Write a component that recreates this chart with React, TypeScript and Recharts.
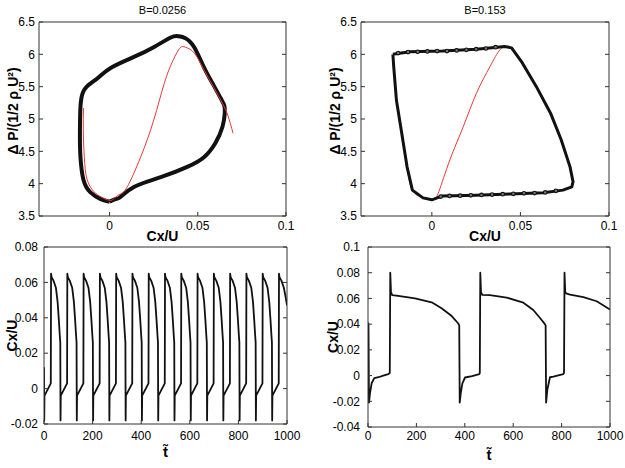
import { LineChart, Line, XAxis, YAxis } from "recharts";

const FONT = "'Liberation Sans', Arial, Helvetica, sans-serif";

// ---- top panels: phase portraits (Cx/U, dP/(1/2 rho U^2)) ----
const loopLowB = [
  [0.0, 3.72], [-0.005, 3.76], [-0.011, 3.87], [-0.0148, 4.06], [-0.0165, 4.41],
  [-0.0168, 4.77], [-0.0166, 5.14], [-0.016, 5.32], [-0.0136, 5.48], [-0.0068, 5.63],
  [0.0006, 5.79], [0.0138, 5.96], [0.025, 6.11], [0.0347, 6.26], [0.039, 6.28],
  [0.043, 6.25], [0.048, 6.11], [0.0535, 5.8], [0.059, 5.52], [0.063, 5.32],
  [0.065, 5.21], [0.0653, 5.09], [0.064, 4.88], [0.06, 4.63], [0.0535, 4.41],
  [0.044, 4.26], [0.029, 4.1], [0.0138, 3.95], [0.006, 3.79], [0.003, 3.76], [0.0, 3.72],
];

const predLowB = [
  [-0.0148, 5.17], [-0.0149, 4.8], [-0.0143, 4.4], [-0.0128, 4.07], [-0.009, 3.88],
  [-0.0045, 3.79], [0.0, 3.74], [0.0025, 3.77], [0.006, 3.84], [0.01, 3.95],
  [0.0176, 4.41], [0.025, 4.98], [0.031, 5.55], [0.036, 5.91], [0.04, 6.1],
  [0.043, 6.11], [0.048, 6.02], [0.0535, 5.76], [0.059, 5.49], [0.064, 5.24],
  [0.067, 5.06], [0.07, 4.78],
];

const loopHighB = [
  [-0.022, 6.0], [-0.0124, 6.04], [0.006, 6.05], [0.025, 6.08], [0.037, 6.11],
  [0.041, 6.12], [0.045, 6.1], [0.051, 5.87], [0.059, 5.5], [0.067, 5.09],
  [0.073, 4.68], [0.078, 4.26], [0.0797, 4.03], [0.079, 3.95], [0.074, 3.9],
  [0.063, 3.86], [0.044, 3.84], [0.025, 3.82], [0.006, 3.81], [0.003, 3.78],
  [0.0, 3.75], [-0.005, 3.78], [-0.011, 3.9], [-0.014, 4.26], [-0.017, 4.78],
  [-0.02, 5.29], [-0.0215, 5.8], [-0.022, 6.0],
];

// sparse markers visible along the fast (top / bottom) branches
const markersHighB = [
  [-0.019, 6.02], [-0.0135, 6.035], [-0.008, 6.04], [-0.0025, 6.045], [0.003, 6.05],
  [0.0085, 6.05], [0.014, 6.06], [0.0195, 6.07], [0.025, 6.08], [0.0305, 6.09],
  [0.036, 6.11],
  [0.07, 3.89], [0.064, 3.865], [0.058, 3.855], [0.052, 3.85], [0.046, 3.843],
  [0.04, 3.838], [0.034, 3.832], [0.028, 3.826], [0.022, 3.82], [0.016, 3.815],
  [0.01, 3.81], [0.005, 3.8],
];

const predHighB = [
  [-0.0215, 5.85], [-0.02, 5.29], [-0.017, 4.78], [-0.014, 4.26], [-0.011, 3.9],
  [-0.005, 3.78], [0.0, 3.75], [0.002, 3.78], [0.004, 3.88], [0.0102, 4.37],
  [0.0177, 4.88], [0.0252, 5.4], [0.0328, 5.81], [0.0384, 6.07], [0.042, 6.12],
  [0.045, 6.1], [0.051, 5.87], [0.059, 5.5], [0.067, 5.09], [0.073, 4.68],
  [0.078, 4.26], [0.0797, 4.03],
];

// ---- bottom panels: Cx/U against t~ ----
const cxLowB = [
  [0, 0.012],
  [1, -0.018], [2, -0.004], [28, 0.003], [29, 0.065], [31, 0.063], [39, 0.061], [49, 0.057], [56, 0.049], [61, 0.039], [65, 0.03], [67, 0.026],
  [68, -0.018], [69, -0.004], [95, 0.003], [96, 0.065], [98, 0.063], [106, 0.061], [116, 0.057], [123, 0.049], [128, 0.039], [132, 0.03], [134, 0.026],
  [135, -0.018], [136, -0.004], [162, 0.003], [163, 0.065], [165, 0.063], [173, 0.061], [183, 0.057], [190, 0.049], [195, 0.039], [199, 0.03], [201, 0.026],
  [202, -0.018], [203, -0.004], [229, 0.003], [230, 0.065], [232, 0.063], [240, 0.061], [250, 0.057], [257, 0.049], [262, 0.039], [266, 0.03], [268, 0.026],
  [269, -0.018], [270, -0.004], [296, 0.003], [297, 0.065], [299, 0.063], [307, 0.061], [317, 0.057], [324, 0.049], [329, 0.039], [333, 0.03], [335, 0.026],
  [336, -0.018], [337, -0.004], [363, 0.003], [364, 0.065], [366, 0.063], [374, 0.061], [384, 0.057], [391, 0.049], [396, 0.039], [400, 0.03], [402, 0.026],
  [403, -0.018], [404, -0.004], [430, 0.003], [431, 0.065], [433, 0.063], [441, 0.061], [451, 0.057], [458, 0.049], [463, 0.039], [467, 0.03], [469, 0.026],
  [470, -0.018], [471, -0.004], [497, 0.003], [498, 0.065], [500, 0.063], [508, 0.061], [518, 0.057], [525, 0.049], [530, 0.039], [534, 0.03], [536, 0.026],
  [537, -0.018], [538, -0.004], [564, 0.003], [565, 0.065], [567, 0.063], [575, 0.061], [585, 0.057], [592, 0.049], [597, 0.039], [601, 0.03], [603, 0.026],
  [604, -0.018], [605, -0.004], [631, 0.003], [632, 0.065], [634, 0.063], [642, 0.061], [652, 0.057], [659, 0.049], [664, 0.039], [668, 0.03], [670, 0.026],
  [671, -0.018], [672, -0.004], [698, 0.003], [699, 0.065], [701, 0.063], [709, 0.061], [719, 0.057], [726, 0.049], [731, 0.039], [735, 0.03], [737, 0.026],
  [738, -0.018], [739, -0.004], [765, 0.003], [766, 0.065], [768, 0.063], [776, 0.061], [786, 0.057], [793, 0.049], [798, 0.039], [802, 0.03], [804, 0.026],
  [805, -0.018], [806, -0.004], [832, 0.003], [833, 0.065], [835, 0.063], [843, 0.061], [853, 0.057], [860, 0.049], [865, 0.039], [869, 0.03], [871, 0.026],
  [872, -0.018], [873, -0.004], [899, 0.003], [900, 0.065], [902, 0.063], [910, 0.061], [920, 0.057], [927, 0.049], [932, 0.039], [936, 0.03], [938, 0.026],
  [939, -0.018], [940, -0.004], [966, 0.003], [967, 0.065], [969, 0.063], [977, 0.061], [987, 0.057], [994, 0.052], [1000, 0.047],
];

const cxHighB = [
  [0, 0.041], [2, 0.04], [4, -0.021], [8, -0.014], [15, -0.006], [26, -0.002],
  [43, -0.0013], [63, 0.0], [84, 0.0012], [90, 0.002], [92, 0.08], [95, 0.065],
  [100, 0.0626], [125, 0.062], [194, 0.06], [263, 0.057], [304, 0.0523], [346, 0.0463],
  [373, 0.0405], [377, 0.039], [379, -0.021], [383, -0.014], [390, -0.006], [401, -0.0015],
  [430, -0.0005], [460, 0.0012], [462, 0.002], [464, 0.08], [467, 0.065], [472, 0.0628],
  [504, 0.0626], [573, 0.0607], [642, 0.0567], [683, 0.051], [711, 0.0448], [731, 0.04],
  [734, 0.039], [736, -0.021], [741, -0.011], [752, -0.0013], [766, -0.0008], [807, 0.0012],
  [810, 0.002], [812, 0.08], [815, 0.065], [818, 0.064], [835, 0.063], [890, 0.061],
  [945, 0.0578], [1000, 0.0514],
];

// ---- ticks ----
const cxTicks = [0, 0.05, 0.1];
const dpTicks = [3.5, 4, 4.5, 5, 5.5, 6, 6.5];
const timeTicks = [0, 200, 400, 600, 800, 1000];
const cxLowTicks = [-0.02, 0, 0.02, 0.04, 0.06, 0.08];
const cxHighTicks = [-0.04, -0.02, 0, 0.02, 0.04, 0.06, 0.08, 0.1];

const toPts = (arr: number[][]) => arr.map(([x, y]) => ({ x, y }));

const YW = 50;
const XH = 40;
const RM = 20;
const AXIS = "#333";
const tickStyle = { fontSize: 12, fill: "#000", fontFamily: FONT };
const labelStyle = { fontSize: 14, fontWeight: 700, fill: "#000", fontFamily: FONT };

type Series = {
  data: number[][];
  color: string;
  width: number;
  curve: "linear" | "natural";
  markers?: boolean;
};

type PanelProps = {
  left: number; top: number; w: number; h: number;
  padTop: number;
  xDomain: [number, number]; xTicks: number[];
  yDomain: [number, number]; yTicks: number[];
  xGap: number; yGap: number;
  title?: string;
  timeAxis: boolean;
  yLabel: string;
  yLabelX: number;
  yLabelDy: number;
  series: Series[];
};

function Panel(p: PanelProps) {
  const chartLeft = p.left - YW;
  const chartTop = p.top - 1 - p.padTop;
  const width = YW + p.w + 1 + RM;
  const height = p.padTop + 1 + p.h + XH;

  const xLabel = p.timeAxis
    ? (props: any) => {
        const vb = props.viewBox;
        const cx = vb.x + vb.width / 2;
        return (
          <text x={cx} y={vb.y + 33} textAnchor="middle" style={{ ...labelStyle, fontSize: 15 }}>
            {"t\u0303"}
          </text>
        );
      }
    : (props: any) => {
        const vb = props.viewBox;
        return (
          <text x={vb.x + vb.width / 2} y={vb.y + 25} textAnchor="middle" style={labelStyle}>
            Cx/U
          </text>
        );
      };

  const yLabel = (props: any) => {
    const vb = props.viewBox;
    const cx = p.yLabelX - chartLeft;
    const cy = vb.y + vb.height / 2 + p.yLabelDy;
    return (
      <text
        x={cx}
        y={cy}
        transform={`rotate(-90 ${cx} ${cy})`}
        textAnchor="middle"
        dominantBaseline="central"
        style={labelStyle}
      >
        {p.yLabel}
      </text>
    );
  };

  return (
    <div style={{ position: "absolute", left: chartLeft, top: chartTop }}>
      <LineChart width={width} height={height} margin={{ top: p.padTop, right: RM, bottom: 0, left: 0 }}>
        <XAxis
          xAxisId="b"
          dataKey="x"
          type="number"
          domain={p.xDomain}
          ticks={p.xTicks}
          interval={0}
          allowDataOverflow
          height={XH}
          tickSize={-4}
          tickMargin={p.xGap}
          stroke={AXIS}
          tick={tickStyle}
          label={xLabel}
        />
        <XAxis
          xAxisId="t"
          orientation="top"
          type="number"
          domain={p.xDomain}
          ticks={p.xTicks}
          interval={0}
          allowDataOverflow
          height={1}
          tickSize={-4}
          tickFormatter={() => ""}
          stroke={AXIS}
          label={p.title ? { value: p.title, position: "top", offset: 7, style: { fontSize: 11, fill: "#000", fontFamily: FONT } } : undefined}
        />
        <YAxis
          yAxisId="l"
          type="number"
          domain={p.yDomain}
          ticks={p.yTicks}
          interval={0}
          allowDataOverflow
          width={YW}
          tickSize={-4}
          tickMargin={p.yGap}
          stroke={AXIS}
          tick={tickStyle}
          label={yLabel}
        />
        <YAxis
          yAxisId="r"
          orientation="right"
          type="number"
          domain={p.yDomain}
          ticks={p.yTicks}
          interval={0}
          allowDataOverflow
          width={1}
          tickSize={-4}
          tickFormatter={() => ""}
          stroke={AXIS}
        />
        {p.series.map((s, i) => (
          <Line
            key={i}
            xAxisId="b"
            yAxisId="l"
            data={toPts(s.data)}
            dataKey="y"
            type={s.curve}
            stroke={s.markers ? "none" : s.color}
            strokeWidth={s.width}
            strokeLinejoin="round"
            dot={s.markers ? { r: 1.8, stroke: s.color, strokeWidth: 1.1, fill: "#777" } : false}
            activeDot={false}
            isAnimationActive={false}
          />
        ))}
      </LineChart>
    </div>
  );
}

const RED = "#e5393a";
const BLACK = "#111";
const DP_LABEL = "\u0394 P/(1/2 \u03c1 U\u00b2)";

export default function App() {
  return (
    <div style={{ position: "absolute", left: 0, top: 0, width: 625, height: 468, background: "#fff", overflow: "hidden" }}>
      <Panel
        left={39} top={22} w={247} h={194} padTop={21}
        xDomain={[-0.04, 0.1]} xTicks={cxTicks}
        yDomain={[3.5, 6.5]} yTicks={dpTicks}
        xGap={9} yGap={8}
        title="B=0.0256"
        timeAxis={false}
        yLabel={DP_LABEL} yLabelX={13} yLabelDy={-8}
        series={[
          { data: loopLowB, color: BLACK, width: 4, curve: "natural" },
          { data: predLowB, color: RED, width: 1, curve: "natural" },
        ]}
      />
      <Panel
        left={361} top={22} w={248} h={194} padTop={21}
        xDomain={[-0.04, 0.1]} xTicks={cxTicks}
        yDomain={[3.5, 6.5]} yTicks={dpTicks}
        xGap={9} yGap={8}
        title="B=0.153"
        timeAxis={false}
        yLabel={DP_LABEL} yLabelX={335} yLabelDy={-8}
        series={[
          { data: predHighB, color: RED, width: 1, curve: "natural" },
          { data: loopHighB, color: BLACK, width: 3, curve: "linear" },
          { data: markersHighB, color: BLACK, width: 1, curve: "linear", markers: true },
        ]}
      />
      <Panel
        left={44} top={247} w={243} h={177} padTop={10}
        xDomain={[0, 1000]} xTicks={timeTicks}
        yDomain={[-0.02, 0.08]} yTicks={cxLowTicks}
        xGap={11} yGap={10}
        timeAxis
        yLabel="Cx/U" yLabelX={12} yLabelDy={0}
        series={[{ data: cxLowB, color: BLACK, width: 1.8, curve: "linear" }]}
      />
      <Panel
        left={368} top={247} w={242} h={180} padTop={10}
        xDomain={[0, 1000]} xTicks={timeTicks}
        yDomain={[-0.04, 0.1]} yTicks={cxHighTicks}
        xGap={8} yGap={12}
        timeAxis
        yLabel="Cx/U" yLabelX={333} yLabelDy={0}
        series={[{ data: cxHighB, color: BLACK, width: 1.8, curve: "linear" }]}
      />
    </div>
  );
}
